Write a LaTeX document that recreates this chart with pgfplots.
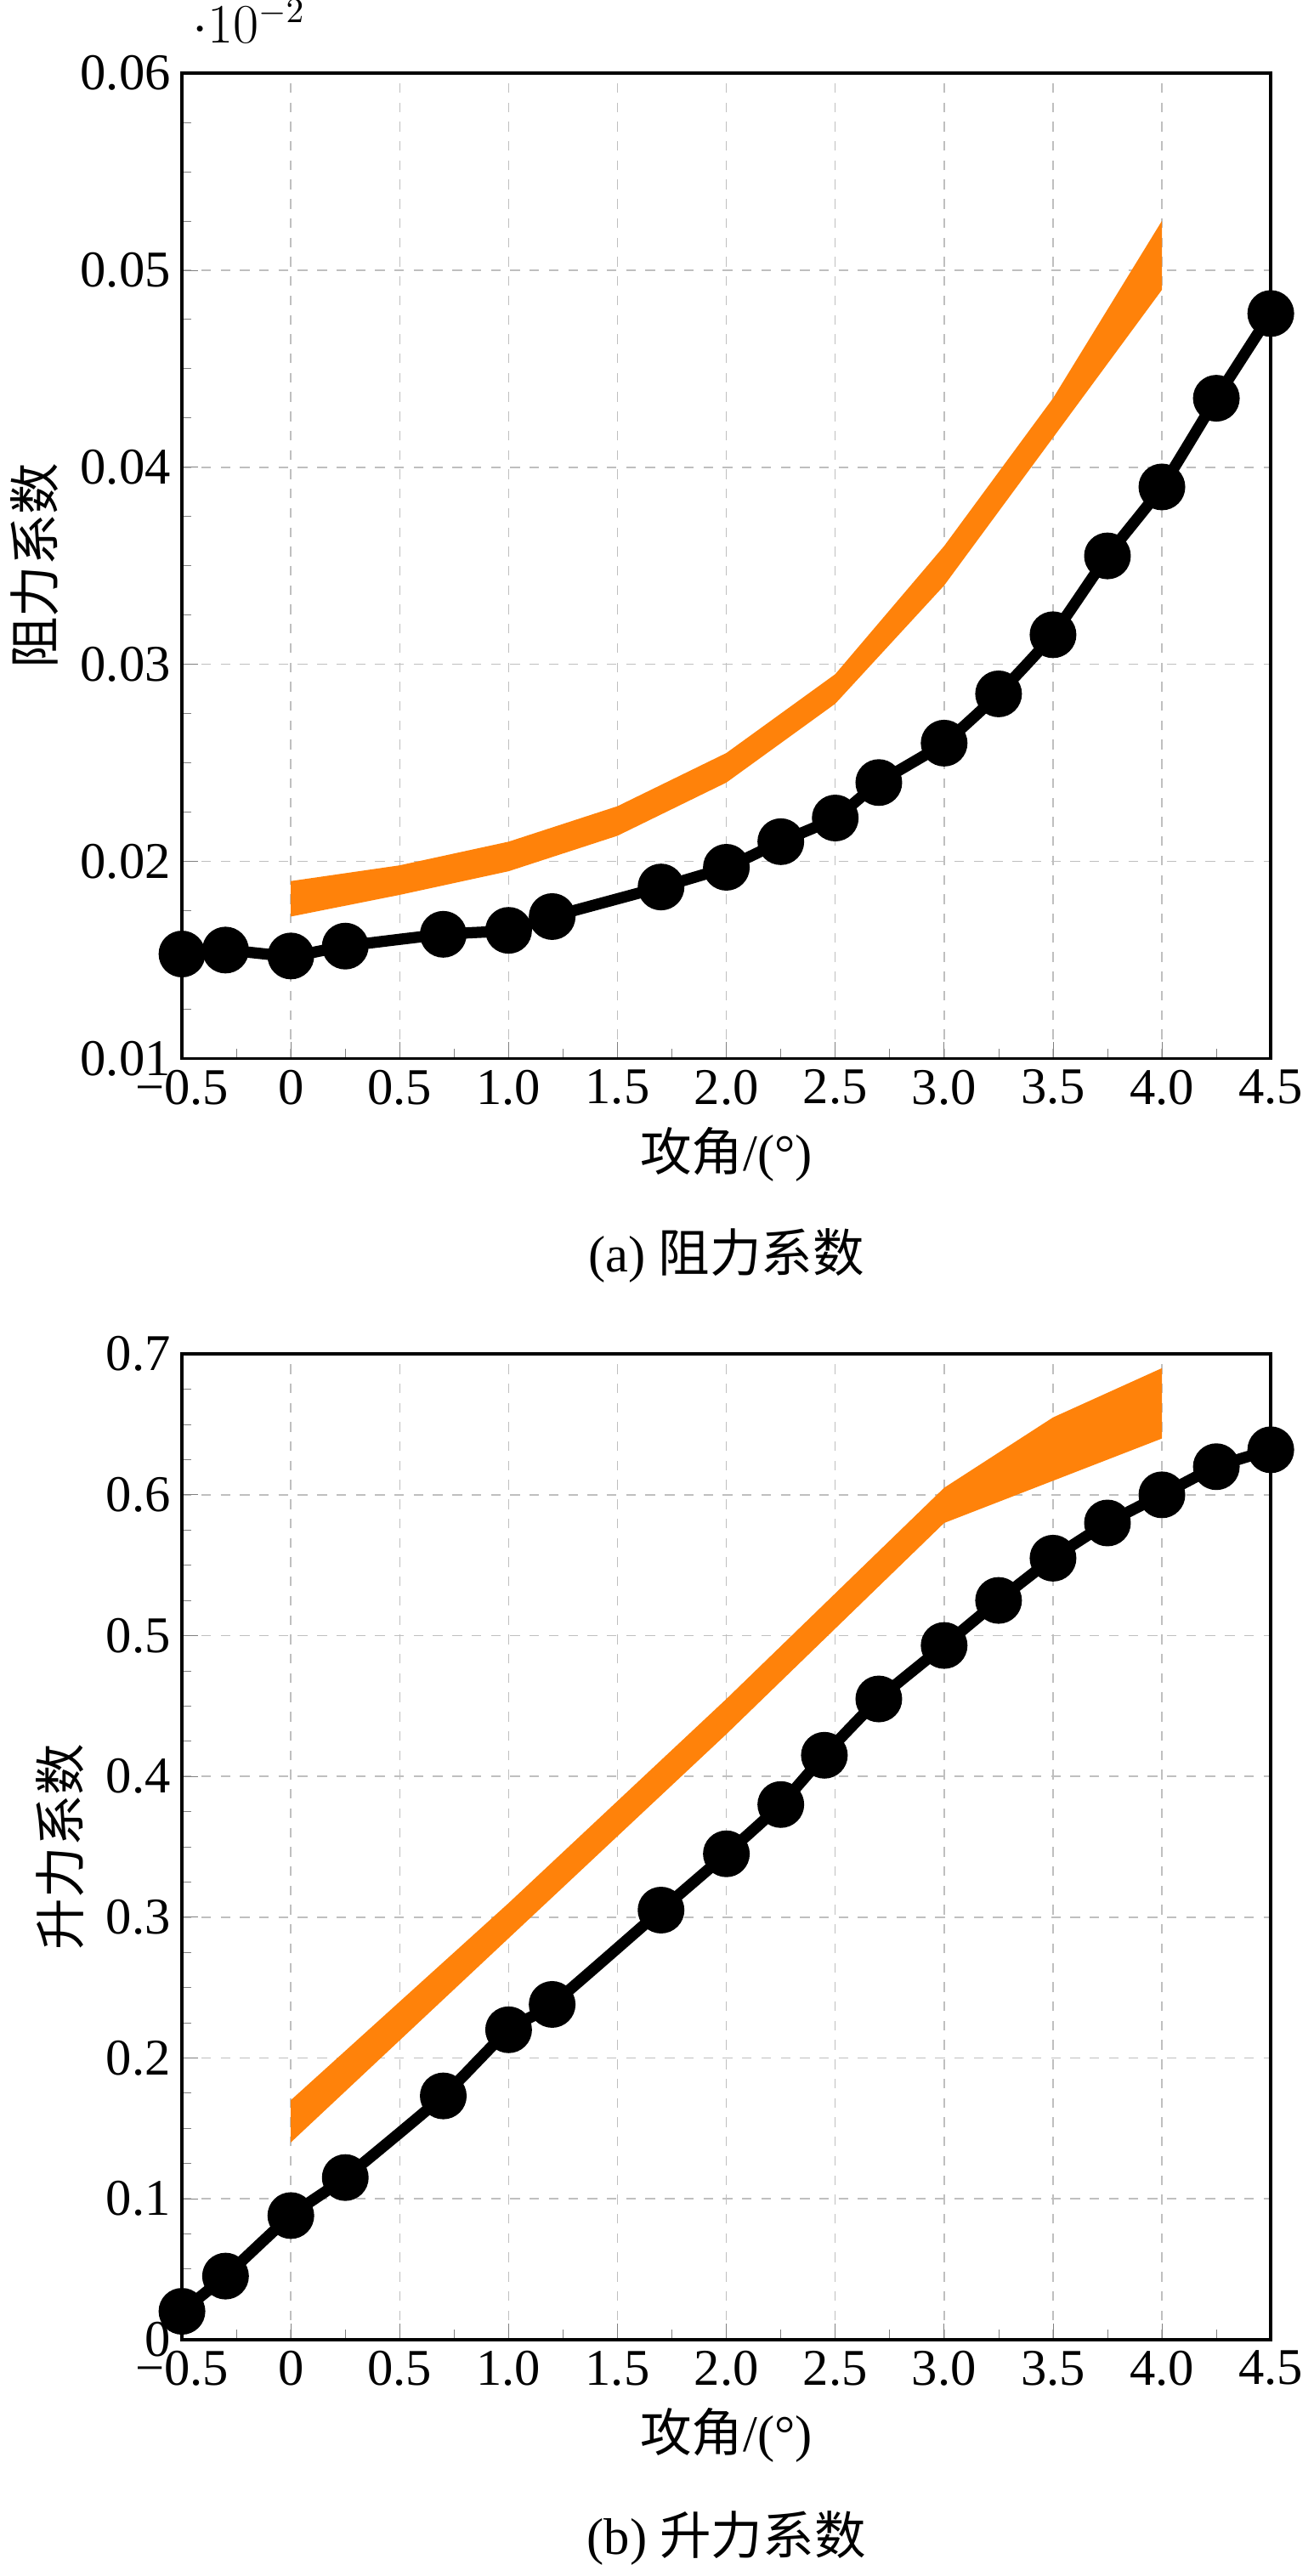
\documentclass[border=0pt]{standalone}
\usepackage{pgfplots}
\pgfplotsset{compat=1.18}
\usepackage{fontspec}
\setmainfont{Liberation Serif}
\newfontfamily\cjk{Noto Sans CJK SC}
\definecolor{myor}{RGB}{255,130,10}
\pgfplotsset{
  myax/.style={
    scale only axis, width=337bp, height=305bp,
    xmin=-0.5, xmax=4.5,
    xtick={-0.5,0,0.5,1,1.5,2,2.5,3,3.5,4,4.5},
    xticklabels={−0.5,0,0.5,1.0,1.5,2.0,2.5,3.0,3.5,4.0,4.5},
    minor x tick num=1, minor y tick num=3,
    tick align=inside, tick pos=left,
    major tick length=5bp, minor tick length=3bp,
    grid=major, grid style={dashed, gray!50},
    axis line style={line width=1pt},
    /pgf/number format/assume math mode=true,
    ticklabel style={font=\fontsize{16}{19}\selectfont},
    label style={font=\fontsize{16}{19}\selectfont},
    xlabel={{\cjk 攻角}/(°)},
  },
  blk/.style={black, line width=3.5pt, mark=*, mark size=5.5pt, smooth, tension=0.3},
}
\begin{document}
\begin{tikzpicture}
\begin{axis}[myax, ymin=0.01, ymax=0.06, ytick={0.01,0.02,0.03,0.04,0.05,0.06},
  yticklabels={0.01,0.02,0.03,0.04,0.05,0.06},
  ylabel={\cjk 阻力系数}]
\addplot[fill=myor, draw=none] coordinates {(0,0.0172)(0.5,0.0183)(1,0.0195)(1.5,0.0213)(2,0.024)(2.5,0.028)(3,0.034)(3.5,0.0415)(4,0.049)(4,0.0525)(3.5,0.0435)(3,0.036)(2.5,0.0295)(2,0.0255)(1.5,0.0228)(1,0.021)(0.5,0.0198)(0,0.019)} --cycle;
\addplot[blk] coordinates {(-0.5,0.0153)(-0.3,0.0155)(0,0.0152)(0.25,0.0157)(0.7,0.0163)(1,0.0165)(1.2,0.0172)(1.7,0.0187)(2,0.0197)(2.25,0.021)(2.5,0.0222)(2.7,0.024)(3,0.026)(3.25,0.0285)(3.5,0.0315)(3.75,0.0355)(4,0.039)(4.25,0.0435)(4.5,0.0478)};
\end{axis}
\node[font=\fontsize{16}{19}\selectfont] at (168.5bp,-61bp) {(a) {\cjk 阻力系数}};
\begin{axis}[myax, yshift=-396.5bp, ymin=0, ymax=0.7, ytick={0,0.1,0.2,0.3,0.4,0.5,0.6,0.7},
  yticklabels={0,0.1,0.2,0.3,0.4,0.5,0.6,0.7},
  ylabel={\cjk 升力系数}]
\addplot[fill=myor, draw=none] coordinates {(0,0.14)(1,0.285)(2,0.43)(2.5,0.505)(3,0.58)(3.5,0.61)(4,0.64)(4,0.69)(3.5,0.655)(3,0.605)(2.5,0.53)(2,0.455)(1,0.31)(0,0.17)} --cycle;
\addplot[blk] coordinates {(-0.5,0.02)(-0.3,0.045)(0,0.088)(0.25,0.115)(0.7,0.173)(1,0.22)(1.2,0.238)(1.7,0.305)(2,0.345)(2.25,0.38)(2.45,0.415)(2.7,0.455)(3,0.493)(3.25,0.525)(3.5,0.555)(3.75,0.58)(4,0.6)(4.25,0.62)(4.5,0.632)};
\end{axis}
\node[font=\fontsize{16}{19}\selectfont] at (168.5bp,-458bp) {(b) {\cjk 升力系数}};
\end{tikzpicture}
\end{document}
